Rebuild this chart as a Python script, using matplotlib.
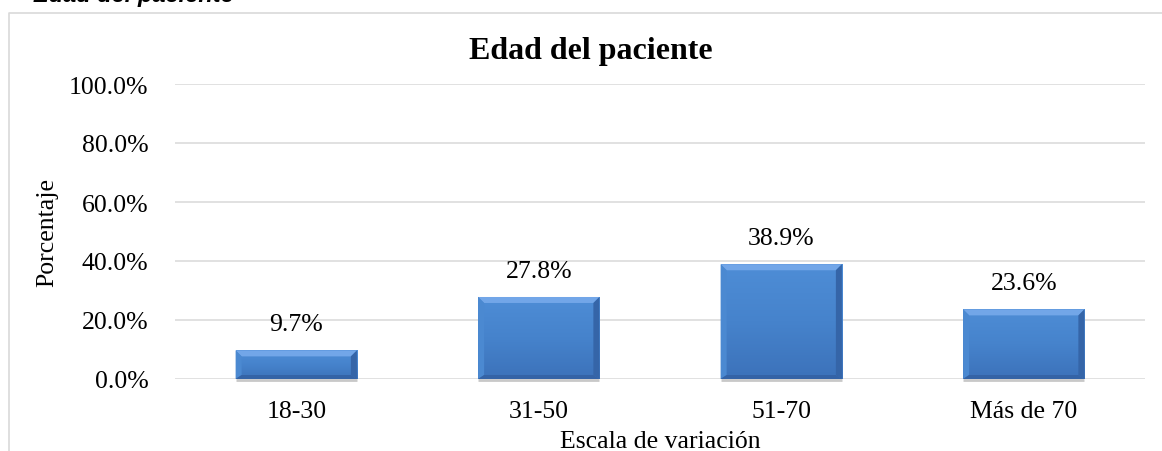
import matplotlib
matplotlib.use("Agg")
import matplotlib.pyplot as plt
import numpy as np
from matplotlib.patches import Polygon
from matplotlib.lines import Line2D
from matplotlib.colors import LinearSegmentedColormap
from matplotlib.ticker import FuncFormatter

# datos
categorias = ["18-30", "31-50", "51-70", "Más de 70"]
porcentajes = [9.7, 27.8, 38.9, 23.6]
titulo = "Edad del paciente"
etiqueta_x = "Escala de variación"
etiqueta_y = "Porcentaje"

W, H = 1162, 452
plt.rcParams['font.family'] = ['Liberation Serif', 'DejaVu Serif']
fs = 18.5

fig = plt.figure(figsize=(W / 100, H / 100), dpi=100)
fig.patch.set_facecolor('white')

# marco del grafico (borde gris)
fig.add_artist(Line2D([9 / W, 9 / W, 1.0], [0.0, 1 - 14 / H, 1 - 14 / H],
                      transform=fig.transFigure, color='#D9D9D9', lw=1.2))
# texto cortado arriba (titulo del documento)
fig.text(33 / W, 1 - 2 / H, titulo, family='Liberation Sans', style='italic',
         fontweight='bold', fontsize=17, va='baseline', ha='left', color='black')

ax_l, ax_r, ax_t, ax_b = 175, 1145, 85, 380
ax = fig.add_axes([ax_l / W, 1 - ax_b / H, (ax_r - ax_l) / W, (ax_b - ax_t) / H])

x = np.arange(len(categorias))
ancho = 0.5
barras = ax.bar(x, porcentajes, width=ancho, color='#4A88D0', zorder=2, linewidth=0)

ax.set_xlim(-0.5, len(categorias) - 0.5)
ax.set_ylim(0, 100)
ax.set_yticks(np.arange(0, 101, 20))
ax.yaxis.set_major_formatter(FuncFormatter(lambda v, p: "%.1f%%" % v))
ax.grid(axis='y', color='#D9D9D9', lw=1.1, zorder=0)
for s in ax.spines.values():
    s.set_visible(False)
ax.tick_params(axis='both', length=0, labelsize=fs)
ax.tick_params(axis='y', pad=19)
ax.tick_params(axis='x', pad=15)
ax.set_xticks(x)
ax.set_xticklabels(categorias)

# relleno degradado y bisel de cada barra
cmap = LinearSegmentedColormap.from_list('azul', ['#3C72BA', '#4683CC', '#4E8DD6'])
px_x = (ax_r - ax_l) / len(categorias)
px_y = (ax_b - ax_t) / 100.0
bx = 6 / px_x
by_top = 6 / px_y
by_bot = 4 / px_y
for b in barras:
    x0, y0 = b.get_x(), b.get_y()
    x1, y1 = x0 + b.get_width(), y0 + b.get_height()
    grad = np.linspace(0, 1, 100).reshape(-1, 1)
    im = ax.imshow(grad, cmap=cmap, extent=[x0, x1, y0, y1], origin='lower',
                   aspect='auto', zorder=3)
    im.set_clip_path(b)
    ix0, ix1, iy0, iy1 = x0 + bx, x1 - bx, y0 + by_bot, y1 - by_top
    ax.add_patch(Polygon([(x0, y1), (x1, y1), (ix1, iy1), (ix0, iy1)],
                         closed=True, color='#72A6E8', lw=0, zorder=4))
    ax.add_patch(Polygon([(x0, y0), (x0, y1), (ix0, iy1), (ix0, iy0)],
                         closed=True, color='#4B89D1', lw=0, zorder=4))
    ax.add_patch(Polygon([(x1, y0), (x1, y1), (ix1, iy1), (ix1, iy0)],
                         closed=True, color='#3565A8', lw=0, zorder=4))
    ax.add_patch(Polygon([(x0, y0), (x1, y0), (ix1, iy0), (ix0, iy0)],
                         closed=True, color='#3463A6', lw=0, zorder=4))
    # sombra ligera
    ax.plot([x0, x1], [y0 - 0.4, y0 - 0.4], color='#C8C8C8', lw=2, zorder=1,
            solid_capstyle='butt', clip_on=False)

for xi, v in zip(x, porcentajes):
    ax.annotate("%.1f%%" % v, (xi, v), xytext=(0, 19), textcoords='offset points',
                ha='center', va='center', fontsize=fs)

ax.set_xlabel(etiqueta_x, fontsize=fs, labelpad=0)
ax.set_ylabel(etiqueta_y, fontsize=fs, labelpad=6)
ax.xaxis.set_label_coords(0.5, -0.172)
ax.yaxis.set_label_coords(-0.12, 0.5)

fig.text(591 / W, 1 - 52 / H, titulo, fontsize=23, fontweight='bold',
         ha='center', va='center')

fig.savefig("out.png", dpi=100)
